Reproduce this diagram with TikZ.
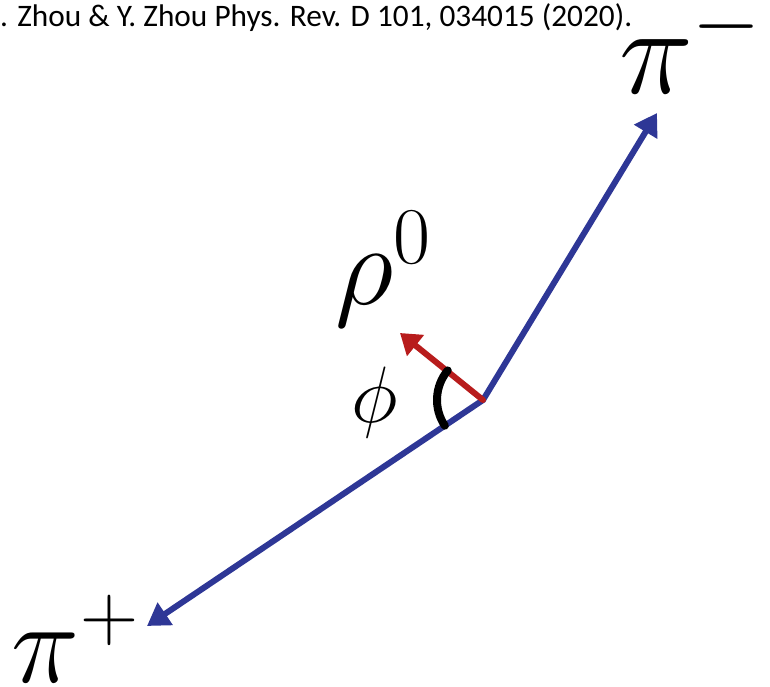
\documentclass[tikz,border=0pt]{standalone}
\usepackage{fix-cm}
\usepackage{fontspec}
\newfontfamily\calib{Carlito}
\usetikzlibrary{arrows.meta}
\definecolor{vecblue}{RGB}{46,55,150}
\definecolor{vecred}{RGB}{184,28,28}
\tikzset{
  bluevec/.style={draw=vecblue, line width=6pt, line join=miter,
    arrows={Triangle[length=22pt,width=26pt]-Triangle[length=22pt,width=26pt]}},
  redvec/.style={draw=vecred, line width=6pt, line cap=round,
    -{Triangle[length=20pt,width=26pt]}},
  anglearc/.style={draw=black, line width=8pt, line cap=round},
  lbl/.style={inner sep=0pt, outer sep=0pt, anchor=base west},
}
\begin{document}
\begin{tikzpicture}[x=1pt,y=1pt]
\useasboundingbox (0,0) rectangle (770,686);
% reference line
\node[lbl, font=\calib\fontsize{31.3}{36}\selectfont] (ref) at (0,659)
  {. Zhou \& Y. Zhou Phys. Rev. D 101, 034015 (2020).};
% geometry
\coordinate (V) at (483,286);
\coordinate (Tm) at (657,573);
\coordinate (Tp) at (147,60);
\coordinate (R) at (400,353);
% vectors
\draw[bluevec] (Tp) -- (V) -- (Tm);
\draw[redvec] (V) -- (R);
\draw[anglearc] (V) ++(140:46pt) arc[start angle=140, end angle=214, radius=46pt];
% labels
\node[lbl, font=\fontsize{125}{130}\selectfont] (pim) at (619,592) {$\pi^-$};
\node[lbl, font=\fontsize{115}{120}\selectfont] (pip) at (12,4) {$\pi^+$};
\node[lbl, font=\fontsize{115}{120}\selectfont] (rho) at (335,381) {$\rho^0$};
\node[lbl, font=\fontsize{80}{84}\selectfont] (phi) at (351,264) {$\phi$};
\end{tikzpicture}
\end{document}
